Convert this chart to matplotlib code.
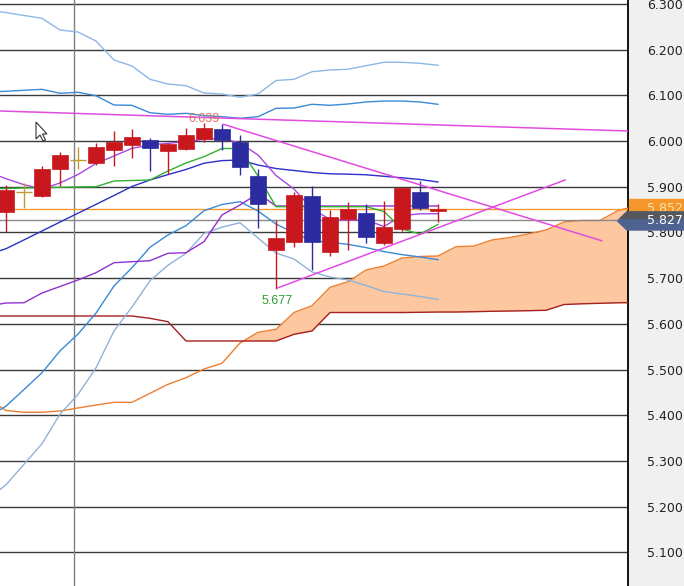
import numpy as np
import matplotlib
matplotlib.use('Agg')
import matplotlib.pyplot as plt
from matplotlib.patches import Polygon, Rectangle

# ---- candles (index 0..24) ----
opens  = [5.845, 5.889, 5.880, 5.939, 5.959, 5.952, 5.981, 5.991, 6.002, 5.979,
          5.983, 6.005, 6.026, 5.999, 5.924, 5.762, 5.780, 5.880, 5.758, 5.829,
          5.842, 5.776, 5.807, 5.888, 5.848]
highs  = [5.904, 5.908, 5.945, 5.976, 5.987, 5.995, 6.022, 6.026, 6.007, 5.996,
          6.028, 6.039, 6.037, 6.013, 5.940, 5.827, 5.889, 5.902, 5.849, 5.867,
          5.862, 5.869, 5.900, 5.913, 5.862]
lows   = [5.801, 5.854, 5.878, 5.902, 5.938, 5.948, 5.946, 5.964, 5.935, 5.928,
          5.980, 5.997, 5.980, 5.926, 5.809, 5.677, 5.769, 5.719, 5.749, 5.762,
          5.776, 5.773, 5.804, 5.849, 5.824]
closes = [5.893, 5.889, 5.939, 5.970, 5.959, 5.987, 5.997, 6.008, 5.984, 5.994,
          6.013, 6.028, 6.002, 5.944, 5.862, 5.787, 5.882, 5.780, 5.833, 5.851,
          5.791, 5.811, 5.897, 5.853, 5.852]

# ---- indicator lines (index -1..24) ----
line_idx = list(range(-1, 25))
bb_up3 = [6.2869, 6.2812, 6.2748, 6.2687, 6.2431, 6.2387, 6.2190, 6.1775, 6.1643, 6.1352,
          6.1249, 6.1212, 6.1052, 6.1031, 6.0958, 6.1031, 6.1326, 6.1352, 6.1519, 6.1556,
          6.1571, 6.1650, 6.1724, 6.1724, 6.1702, 6.1659]
bb_up2 = [6.1074, 6.1090, 6.1112, 6.1133, 6.1046, 6.1068, 6.0993, 6.0790, 6.0783, 6.0621,
          6.0586, 6.0608, 6.0556, 6.0534, 6.0499, 6.0534, 6.0718, 6.0724, 6.0805, 6.0783,
          6.0812, 6.0856, 6.0877, 6.0877, 6.0856, 6.0805]
bb_mid = [5.7516, 5.7645, 5.7838, 5.8033, 5.8228, 5.8422, 5.8615, 5.8810, 5.9007, 5.9149,
          5.9267, 5.9379, 5.9516, 5.9573, 5.9586, 5.9477, 5.9400, 5.9357, 5.9313, 5.9284,
          5.9276, 5.9263, 5.9230, 5.9197, 5.9160, 5.9105]
bb_lo2 = [5.3958, 5.4201, 5.4564, 5.4932, 5.5409, 5.5777, 5.6236, 5.6829, 5.7230, 5.7676,
          5.7947, 5.8149, 5.8477, 5.8613, 5.8674, 5.8470, 5.8186, 5.7989, 5.7821, 5.7786,
          5.7740, 5.7670, 5.7582, 5.7516, 5.7464, 5.7405]
bb_lo3 = [5.2164, 5.2479, 5.2928, 5.3379, 5.4024, 5.4457, 5.5039, 5.5845, 5.6370, 5.6945,
          5.7284, 5.7545, 5.7980, 5.8116, 5.8214, 5.7880, 5.7551, 5.7420, 5.7136, 5.7026,
          5.6961, 5.6840, 5.6709, 5.6654, 5.6600, 5.6534]
sma5   = [5.9324, 5.9177, 5.9046, 5.8952, 5.9083, 5.9269, 5.9510, 5.9674, 5.9842, 5.9915,
          5.9952, 5.9987, 6.0039, 6.0061, 5.9958, 5.9696, 5.9247, 5.8952, 5.8514, 5.8289,
          5.8269, 5.8274, 5.8131, 5.8370, 5.8409, 5.8411]
tenkan = [5.8952, 5.8963, 5.8974, 5.8980, 5.8989, 5.8996, 5.9002, 5.9127, 5.9138, 5.9149,
          5.9346, 5.9521, 5.9659, 5.9838, 5.9838, 5.9236, 5.8565, 5.8565, 5.8565, 5.8565,
          5.8565, 5.8565, 5.8460, 5.8077, 5.7967, 5.8175]
kijun  = [5.6392, 5.6457, 5.6463, 5.6676, 5.6818, 5.6961, 5.7120, 5.7339, 5.7361, 5.7383,
          5.7545, 5.7558, 5.7799, 5.8383, 5.8602, 5.8853, 5.8580, 5.8580, 5.8580, 5.8580,
          5.8580, 5.8580, 5.8580, 5.8580, 5.8580, 5.8580]

# ---- cloud (index -1..35) ----
cloud_idx = list(range(-1, 36))
span_a = [5.4357, 5.4105, 5.4066, 5.4066, 5.4094, 5.4160, 5.4225, 5.4284, 5.4284, 5.4481,
          5.4678, 5.4823, 5.5013, 5.5138, 5.5582, 5.5816, 5.5882, 5.6249, 5.6398, 5.6801,
          5.6923, 5.7179, 5.7267, 5.7442, 5.7475, 5.7486, 5.7689, 5.7705, 5.7836, 5.7891,
          5.7967, 5.8055, 5.8230, 5.8263, 5.8263, 5.8481, 5.8580]
span_b = [5.6173, 5.6173, 5.6173, 5.6173, 5.6173, 5.6173, 5.6173, 5.6173, 5.6173, 5.6122,
          5.6048, 5.5626, 5.5626, 5.5626, 5.5626, 5.5626, 5.5626, 5.5772, 5.5845, 5.6249,
          5.6249, 5.6249, 5.6249, 5.6249, 5.6254, 5.6260, 5.6260, 5.6267, 5.6276, 5.6282,
          5.6289, 5.6298, 5.6424, 5.6440, 5.6451, 5.6462, 5.6468]

# trend lines (index, price)
trend_long_x, trend_long_y = [-0.333, 34.556], [6.0659, 6.0221]
trend_down_x, trend_down_y = [12.07, 33.09], [6.0368, 5.7820]
trend_up_x, trend_up_y = [15.04, 31.06], [5.6779, 5.9149]

last_price = 5.852
ref_price = 5.827
high_label = 6.039
low_label = 5.677
yticks = [5.1, 5.2, 5.3, 5.4, 5.5, 5.6, 5.7, 5.8, 5.9, 6.0, 6.1, 6.2, 6.3]

W, H = 684, 586
fig = plt.figure(figsize=(W / 100, H / 100), dpi=100)
fig.patch.set_facecolor('#f0f0f0')
ax = fig.add_axes([0, 0, 628 / W, 1])
ax.set_facecolor('white')
ax.set_xlim(-0.333, 34.556)
ax.set_ylim(5.02646, 6.30875)

# grid
for t in yticks:
    ax.axhline(t, color='#3a3a3a', lw=1, zorder=1)
ax.axvline(3.78, color='#808080', lw=1, zorder=1)

# cloud
a = np.array(span_a)
b = np.array(span_b)
ax.fill_between(cloud_idx, a, b, where=a >= b, interpolate=True,
                color='#fdc8a0', lw=0, zorder=2)
ax.plot(cloud_idx, span_a, color='#ee7f30', lw=1, zorder=3)
ax.plot(cloud_idx, span_b, color='#a52020', lw=1, zorder=3)

# price lines
ax.axhline(ref_price, color='#8a8a8a', lw=1, zorder=3)
ax.axhline(last_price, color='#f49a30', lw=1, zorder=3)

# bands & averages
ax.plot(line_idx, bb_up3, color='#8cb8e6', lw=1, zorder=4)
ax.plot(line_idx, bb_lo3, color='#8fb2da', lw=1, zorder=4)
ax.plot(line_idx, bb_up2, color='#3a8ad6', lw=1, zorder=4)
ax.plot(line_idx, bb_lo2, color='#3a8ad6', lw=1, zorder=4)
ax.plot(line_idx, bb_mid, color='#2a30c8', lw=1, zorder=4)
ax.plot(line_idx, kijun, color='#9030d0', lw=1, zorder=4)
ax.plot(line_idx, sma5, color='#a848e0', lw=1, zorder=4)
ax.plot(line_idx, tenkan, color='#30b030', lw=1, zorder=4)

# candles
idx = np.arange(len(opens))
for i, o, h, l, c in zip(idx, opens, highs, lows, closes):
    if c > o:
        col = '#c8181e'
    elif c < o:
        col = '#2c2ca0'
    else:
        col = '#c09a30'
    ax.vlines(i, l, h, color=col, lw=1, zorder=5)
    if c == o:
        ax.hlines(c, i - 0.44, i + 0.44, color=col, lw=1, zorder=5)
    else:
        ax.bar(i, abs(c - o), bottom=min(o, c), width=0.88, color=col,
               edgecolor=col, lw=0.5, zorder=6)

# trend lines
for tx, ty in [(trend_long_x, trend_long_y), (trend_down_x, trend_down_y),
               (trend_up_x, trend_up_y)]:
    ax.plot(tx, ty, color='#e04ce0', lw=1.1, zorder=7)

lab_font = ['Liberation Sans', 'DejaVu Sans']
ax.text(11, 6.0494, '%.3f' % high_label, color='#e07060', fontsize=9,
        ha='center', va='center', family=lab_font, zorder=8)
ax.text(15.04, 5.6501, '%.3f' % low_label, color='#30a030', fontsize=9,
        ha='center', va='center', family=lab_font, zorder=8)

# axis
ax.set_xticks([])
ax.yaxis.tick_right()
ax.set_yticks(yticks)
ax.set_yticklabels(['%.3f' % t for t in yticks])
ax.tick_params(axis='y', length=0, pad=13.5, labelsize=9, labelcolor='#222222')
for lbl in ax.get_yticklabels():
    lbl.set_family(['Liberation Sans Narrow', 'DejaVu Sans'])
for s in ['left', 'top', 'bottom']:
    ax.spines[s].set_visible(False)
ax.spines['right'].set_color('black')
ax.spines['right'].set_linewidth(1.3)


def px(x, y):
    return (x / W, 1 - y / H)


# price boxes on the right
fig.add_artist(Rectangle(px(629, 217), 55 / W, 18 / H, transform=fig.transFigure,
                         color='#f4962a', zorder=5))
fig.text(647 / W, 1 - 208 / H, '%.3f' % last_price, color='#fde3a8', fontsize=9,
         va='center', family=['Liberation Sans Narrow', 'DejaVu Sans'], zorder=6)
fig.add_artist(Polygon([px(617.5, 221), px(627, 212), px(684, 212), px(684, 230),
                        px(627, 230)], closed=True, transform=fig.transFigure,
                       color='#4e6390', zorder=7))
fig.add_artist(Polygon([px(620.1, 218.5), px(627, 212), px(684, 212), px(684, 218.5)],
                       closed=True, transform=fig.transFigure,
                       color='#55585e', zorder=7))
fig.text(647 / W, 1 - 221 / H, '%.3f' % ref_price, color='white', fontsize=9,
         va='center', family=['Liberation Sans Narrow', 'DejaVu Sans'], zorder=8)

# mouse cursor
cursor = [px(36, 122), px(36, 139), px(40, 135), px(43, 141), px(45.5, 140),
          px(42.5, 134), px(47, 134)]
fig.add_artist(Polygon(cursor, closed=True, transform=fig.transFigure,
                       facecolor='white', edgecolor='#333333', lw=0.8, zorder=9))

fig.savefig('out.png', dpi=100, facecolor=fig.get_facecolor())
